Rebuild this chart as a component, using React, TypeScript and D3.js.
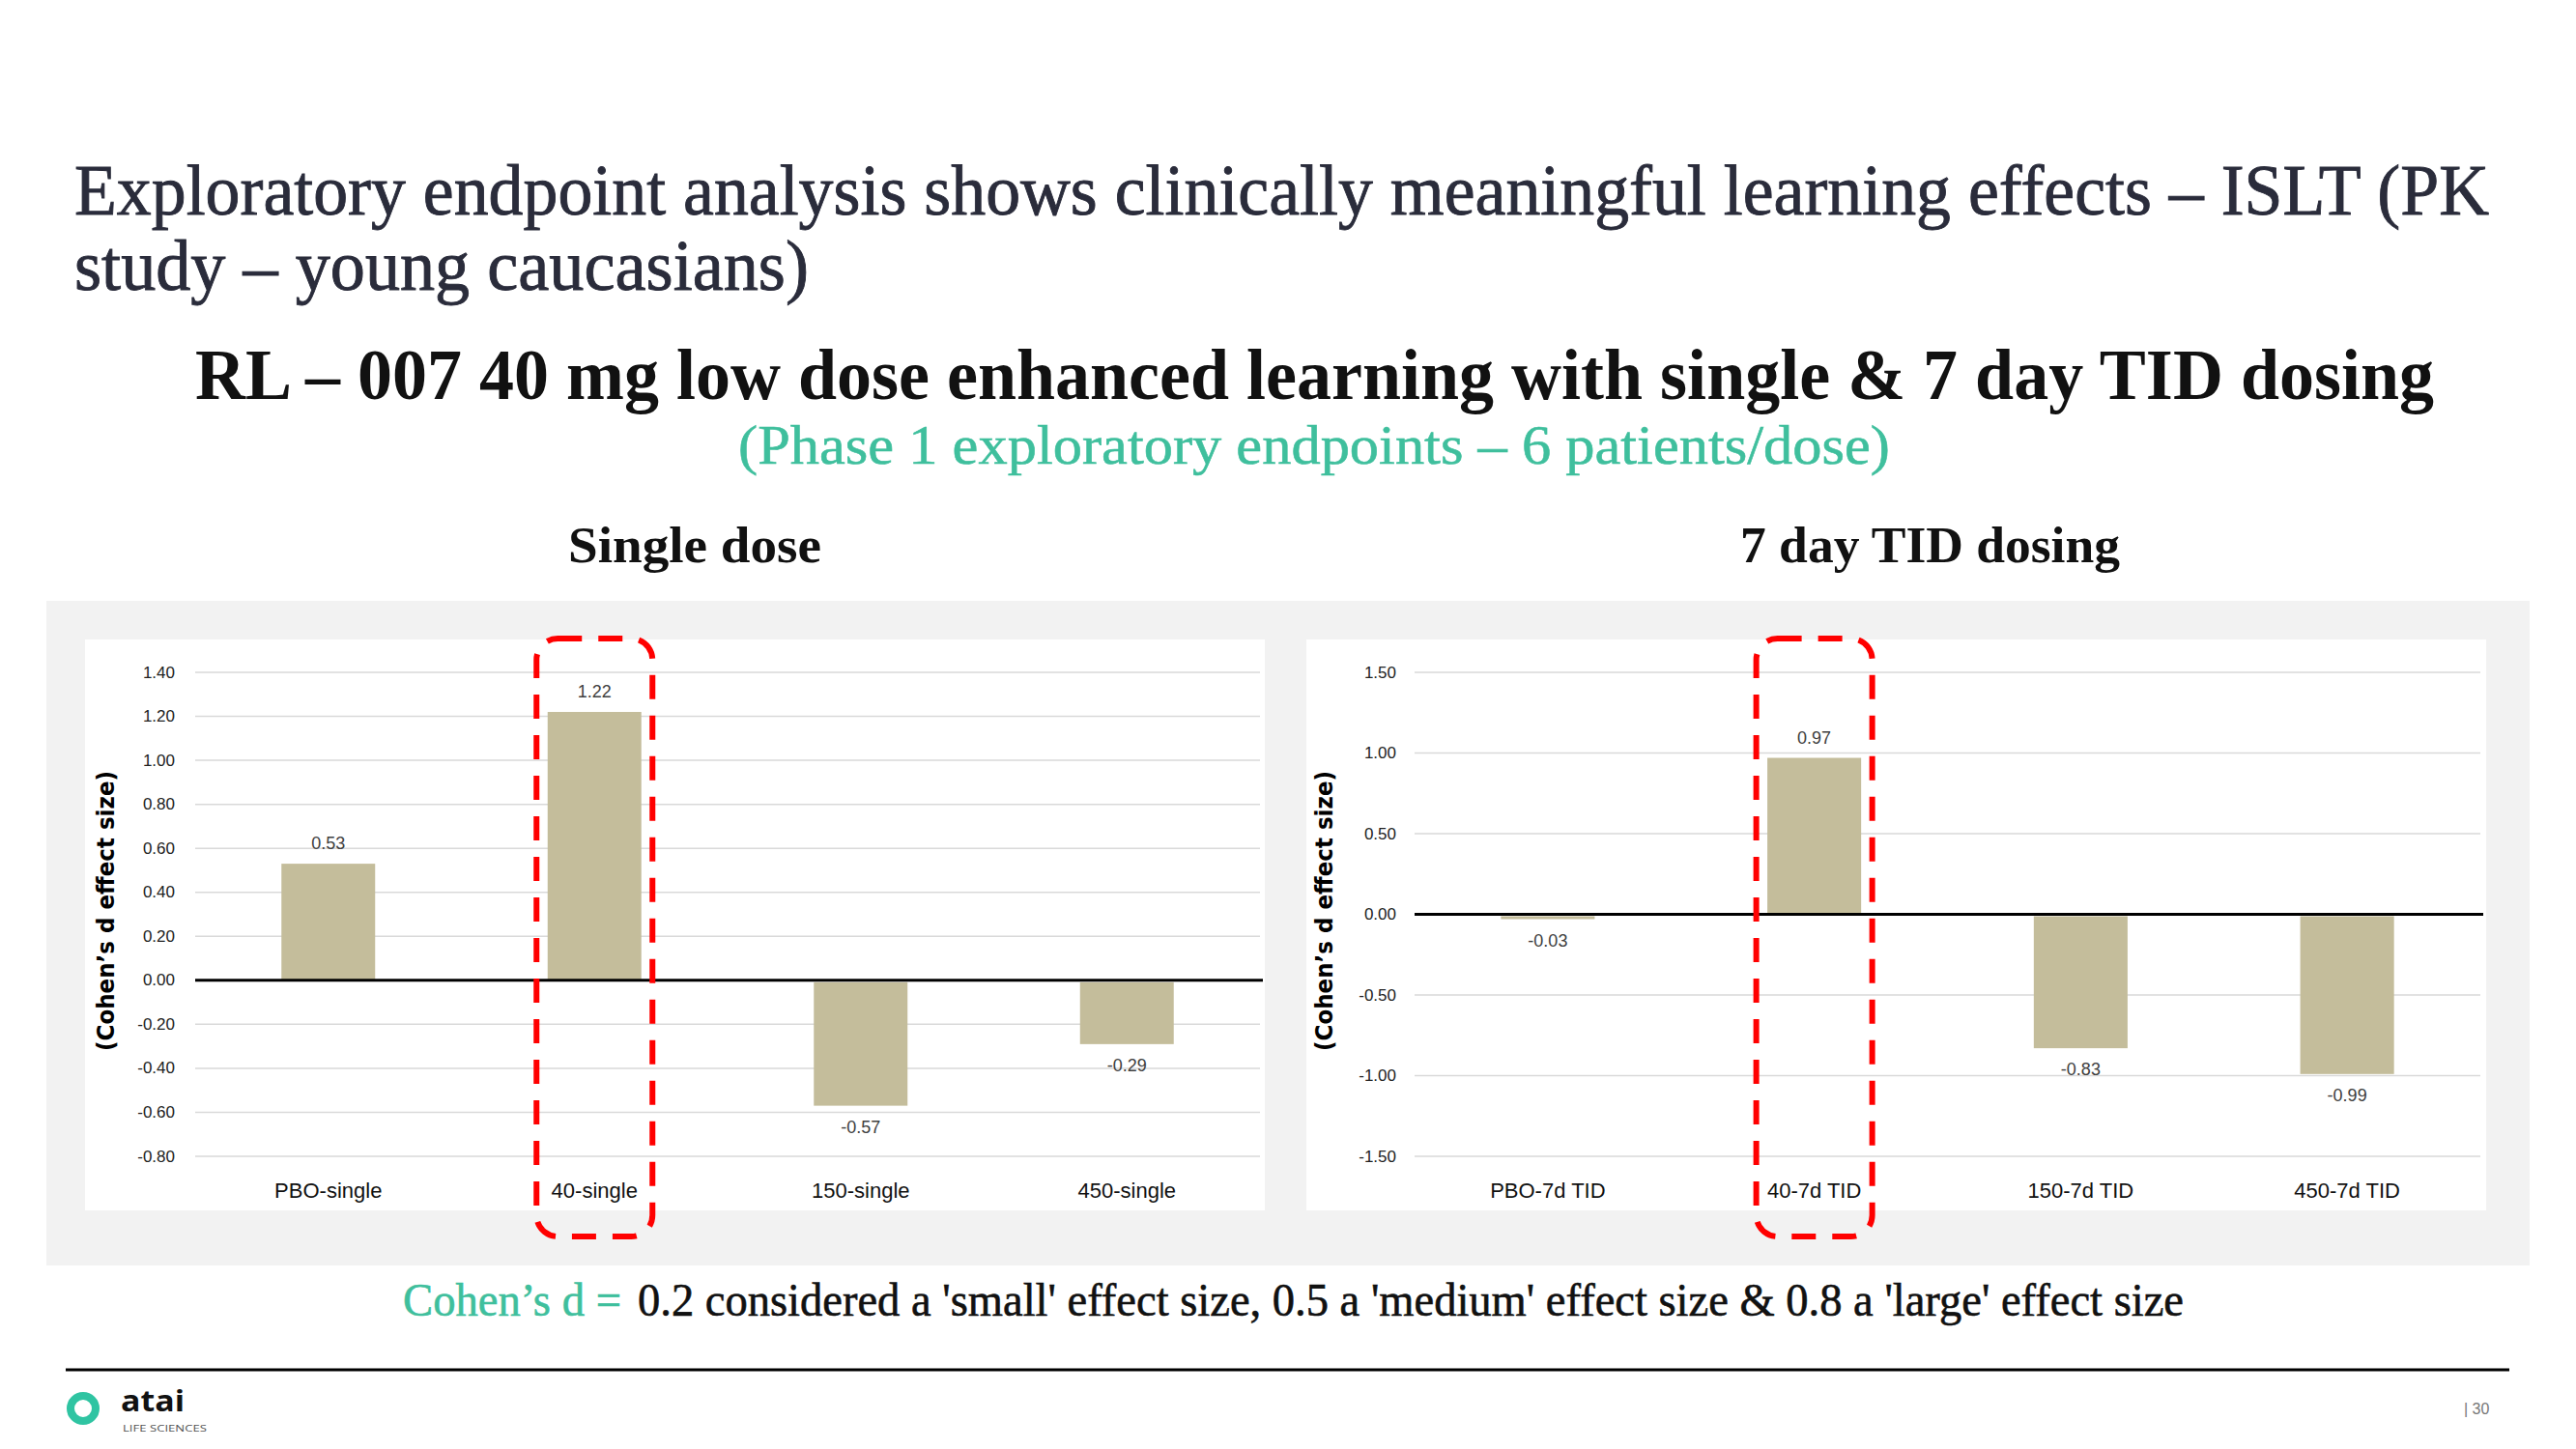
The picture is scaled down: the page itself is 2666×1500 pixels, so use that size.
import React from "react";
import * as d3 from "d3";

const singleCategories = ["PBO-single", "40-single", "150-single", "450-single"];
const singleValues = [0.53, 1.22, -0.57, -0.29];
const singleTicks = [-0.8, -0.6, -0.4, -0.2, 0, 0.2, 0.4, 0.6, 0.8, 1.0, 1.2, 1.4];

const tidCategories = ["PBO-7d TID", "40-7d TID", "150-7d TID", "450-7d TID"];
const tidValues = [-0.03, 0.97, -0.83, -0.99];
const tidTicks = [-1.5, -1.0, -0.5, 0, 0.5, 1.0, 1.5];

const highlightSingle = "40-single";
const highlightTid = "40-7d TID";

const TEAL = "#3fbf9d";
const BAR = "#c4bd9b";
const GRID = "#d9d9d9";
const SANS = "'Liberation Sans', Arial, sans-serif";
const SERIF = "'Liberation Serif', 'Times New Roman', serif";

const fmt2 = (v: number) => d3.format(".2f")(v).replace("\u2212", "-");

type ChartProps = {
  categories: string[];
  values: number[];
  ticks: number[];
  domain: [number, number];
  highlight: string;
  panelX: number;
  plotX0: number;
  plotX1: number;
  tickRight: number;
  titleX: number;
  titleLen: number;
};

function BarChart(p: ChartProps) {
  const y = d3.scaleLinear().domain(p.domain).range([1197, 696]);
  const x = d3
    .scaleBand<string>()
    .domain(p.categories)
    .range([p.plotX0, p.plotX1])
    .paddingInner(0.648)
    .paddingOuter(0.324);
  const hx = (x(p.highlight) ?? 0) + x.bandwidth() / 2;
  return (
    <g>
      <rect x={p.panelX} y={662} width={1221} height={591} fill="#ffffff" />
      {p.ticks.map((t) => (
        <g key={t}>
          {t !== 0 && (
            <line x1={p.plotX0} x2={p.plotX1} y1={y(t)} y2={y(t)} stroke={GRID} strokeWidth={1.5} />
          )}
          <text
            x={p.tickRight}
            y={y(t)}
            textAnchor="end"
            dominantBaseline="central"
            fontFamily={SANS}
            fontSize={17}
            fill="#222"
          >
            {fmt2(t)}
          </text>
        </g>
      ))}
      {p.categories.map((c, i) => {
        const v = p.values[i];
        const top = v >= 0 ? y(v) : y(0) + 2;
        const h = v >= 0 ? y(0) - y(v) : y(v) - y(0) - 2;
        const cx = (x(c) ?? 0) + x.bandwidth() / 2;
        return (
          <g key={c}>
            <rect x={x(c)} y={top} width={x.bandwidth()} height={Math.max(h, 2)} fill={BAR} />
            <text
              x={cx}
              y={v >= 0 ? y(v) - 21 : y(v) + 22}
              textAnchor="middle"
              dominantBaseline="central"
              fontFamily={SANS}
              fontSize={18}
              fill="#404040"
            >
              {fmt2(v)}
            </text>
            <text
              x={cx}
              y={1232}
              textAnchor="middle"
              dominantBaseline="central"
              fontFamily={SANS}
              fontSize={22}
              fill="#111"
            >
              {c}
            </text>
          </g>
        );
      })}
      <line x1={p.plotX0} x2={p.plotX1 + 3} y1={y(0)} y2={y(0)} stroke="#000" strokeWidth={3} />
      <text
        transform={`translate(${p.titleX},943) rotate(-90)`}
        textAnchor="middle"
        dominantBaseline="central"
        fontFamily="'DejaVu Sans', sans-serif"
        fontWeight="bold"
        fontSize={24}
        textLength={p.titleLen}
        lengthAdjust="spacingAndGlyphs"
        fill="#000"
      >
        (Cohen’s d effect size)
      </text>
      <rect
        x={hx - 60}
        y={661}
        width={120}
        height={619}
        rx={22}
        ry={22}
        fill="none"
        stroke="#ff0000"
        strokeWidth={6}
        strokeDasharray="25 17"
      />
    </g>
  );
}

export default function App() {
  return (
    <svg
      width={2666}
      height={1500}
      style={{ position: "absolute", left: 0, top: 0, background: "#fff" }}
    >
      <rect x={0} y={0} width={2666} height={1500} fill="#ffffff" />
      <g stroke="#2a2c3b" strokeWidth={0.9}>
        <text x={77} y={222} fontFamily={SERIF} fontSize={74} fill="#2a2c3b" textLength={2499} lengthAdjust="spacingAndGlyphs">
          Exploratory endpoint analysis shows clinically meaningful learning effects – ISLT (PK
        </text>
        <text x={77} y={300} fontFamily={SERIF} fontSize={74} fill="#2a2c3b" textLength={760} lengthAdjust="spacingAndGlyphs">
          study – young caucasians)
        </text>
      </g>
      <text x={202} y={413} fontFamily={SERIF} fontWeight="bold" fontSize={74} fill="#111" textLength={2317} lengthAdjust="spacingAndGlyphs">
        RL – 007 40 mg low dose enhanced learning with single &amp; 7 day TID dosing
      </text>
      <text x={764} y={480} fontFamily={SERIF} fontSize={58} fill={TEAL} stroke={TEAL} strokeWidth={0.6} textLength={1192} lengthAdjust="spacingAndGlyphs">
        (Phase 1 exploratory endpoints – 6 patients/dose)
      </text>
      <text x={588} y={582} fontFamily={SERIF} fontWeight="bold" fontSize={52} fill="#111" textLength={262} lengthAdjust="spacingAndGlyphs">
        Single dose
      </text>
      <text x={1801} y={582} fontFamily={SERIF} fontWeight="bold" fontSize={52} fill="#111" textLength={393} lengthAdjust="spacingAndGlyphs">
        7 day TID dosing
      </text>

      <rect x={48} y={622} width={2570} height={688} fill="#f2f2f2" />

      <BarChart
        categories={singleCategories}
        values={singleValues}
        ticks={singleTicks}
        domain={[-0.8, 1.4]}
        highlight={highlightSingle}
        panelX={88}
        plotX0={202}
        plotX1={1304}
        tickRight={181}
        titleX={110}
        titleLen={290}
      />
      <BarChart
        categories={tidCategories}
        values={tidValues}
        ticks={tidTicks}
        domain={[-1.5, 1.5]}
        highlight={highlightTid}
        panelX={1352}
        plotX0={1464}
        plotX1={2567}
        tickRight={1445}
        titleX={1371}
        titleLen={290}
      />

      <text x={417} y={1362} fontFamily={SERIF} fontSize={48} fill={TEAL} stroke={TEAL} strokeWidth={0.6} textLength={226} lengthAdjust="spacingAndGlyphs">
        Cohen’s d =
      </text>
      <text x={660} y={1362} fontFamily={SERIF} fontSize={48} fill="#111" stroke="#111" strokeWidth={0.6} textLength={1600} lengthAdjust="spacingAndGlyphs">
        0.2 considered a 'small' effect size, 0.5 a 'medium' effect size &amp; 0.8 a 'large' effect size
      </text>

      <line x1={68} x2={2597} y1={1418} y2={1418} stroke="#000" strokeWidth={3} />

      <circle cx={86} cy={1458} r={13} fill="none" stroke="#2fc4a2" strokeWidth={8} />
      <text x={125} y={1461} fontFamily="'Open Sans', sans-serif" fontWeight="bold" fontSize={30} fill="#111" textLength={66} lengthAdjust="spacingAndGlyphs">
        atai
      </text>
      <text x={127} y={1482} fontFamily="'Open Sans', sans-serif" fontSize={9} fill="#555" textLength={87} lengthAdjust="spacingAndGlyphs">
        LIFE SCIENCES
      </text>
      <text x={2550} y={1458} dominantBaseline="central" fontFamily={SANS} fontSize={16} fill="#777">
        | 30
      </text>
    </svg>
  );
}
